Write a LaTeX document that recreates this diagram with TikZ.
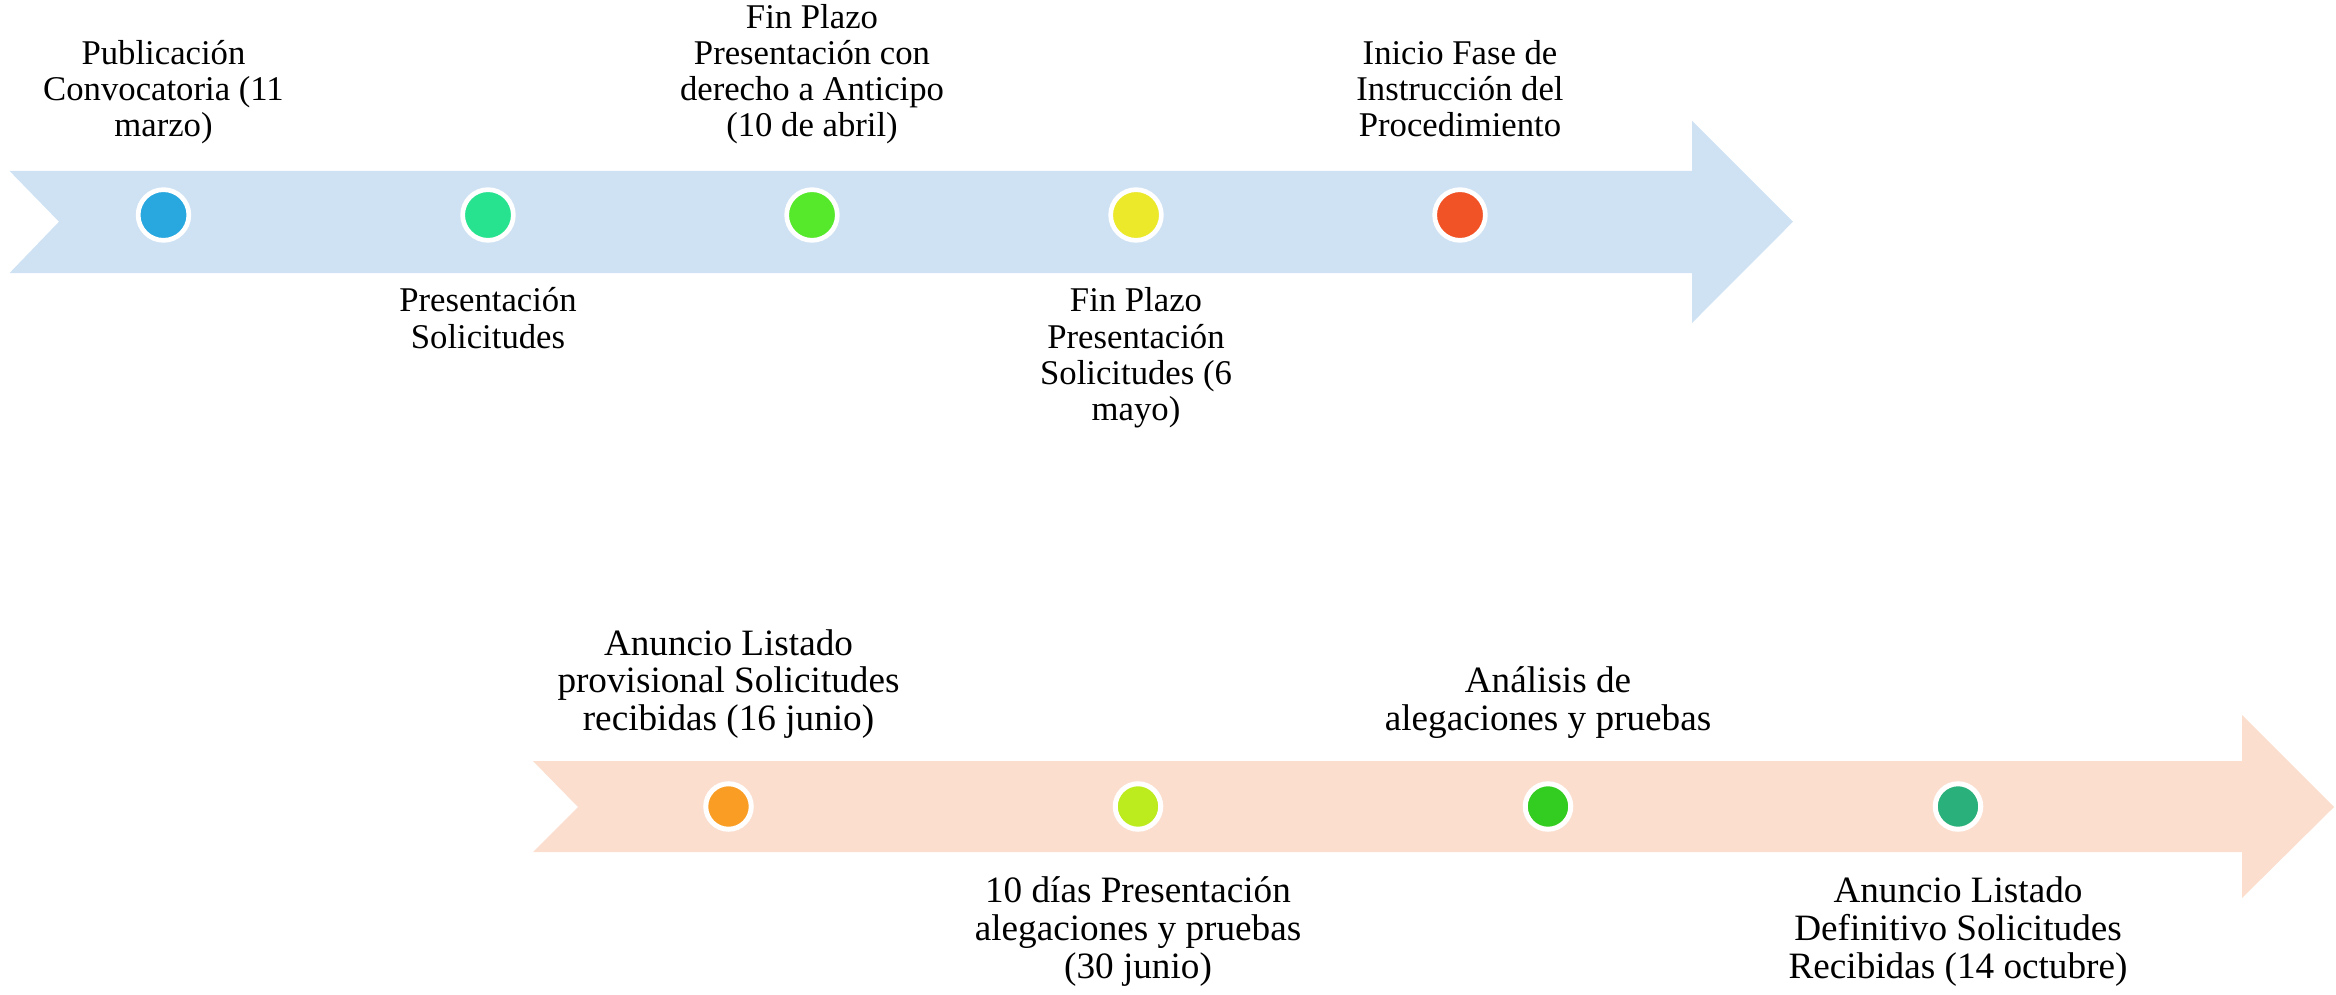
\documentclass[tikz,border=0pt]{standalone}
\usepackage{fontspec}
\setmainfont{Liberation Serif}
\usepackage{xcolor}
\usepackage{tikz}

\definecolor{bandblue}{RGB}{207,226,244}
\definecolor{bandpeach}{RGB}{251,222,206}
\definecolor{dotblue}{RGB}{41,168,224}
\definecolor{dotteal}{RGB}{39,226,142}
\definecolor{dotgreen}{RGB}{86,232,42}
\definecolor{dotyellow}{RGB}{235,233,41}
\definecolor{dotred}{RGB}{241,82,38}
\definecolor{dotorange}{RGB}{249,157,37}
\definecolor{dotlime}{RGB}{188,235,30}
\definecolor{dotgrass}{RGB}{51,204,32}
\definecolor{dotjade}{RGB}{42,176,122}

\begin{document}
\begin{tikzpicture}[x=1pt, y=-1pt,
  dot/.style={circle, draw=white, inner sep=0pt},
  updot/.style={dot, minimum size=50.7pt, line width=4.7pt},
  lowdot/.style={dot, minimum size=45.5pt, line width=5pt},
  lbl/.style={align=center, inner sep=0pt,
    execute at begin node=\strut, execute at end node=\strut},
  uplbl/.style={lbl, font=\fontsize{34.7}{36.3}\selectfont},
  lowlbl/.style={lbl, font=\fontsize{37.2}{37.8}\selectfont}]

% === Parameters ===
\pgfmathsetmacro{\upy}{215}      % dots, upper band
\pgfmathsetmacro{\lowy}{806.5}   % dots, lower band
\pgfmathsetmacro{\upabove}{148}  % label bottoms above upper band
\pgfmathsetmacro{\upbelow}{287.6}
\pgfmathsetmacro{\lowabove}{742.3}
\pgfmathsetmacro{\lowbelow}{876.5}

% === Drawing region ===
\useasboundingbox (0,0) rectangle (2336,995);

% === Bands ===
% Upper band (first phase)
\fill[bandblue] (9.6,171) -- (1692,171) -- (1692,120.7) -- (1793,221.7)
  -- (1692,323) -- (1692,273) -- (9.6,273) -- (59,221.7) -- cycle;

% Lower band (second phase)
\fill[bandpeach] (533,761) -- (2242,761) -- (2242,715) -- (2334,807)
  -- (2242,898) -- (2242,852) -- (533,852) -- (578,807) -- cycle;

% === Milestones, upper band ===
\node[updot, fill=dotblue] (pub) at (163.5,\upy) {};
\node[updot, fill=dotteal] (pres) at (488,\upy) {};
\node[updot, fill=dotgreen] (antic) at (812,\upy) {};
\node[updot, fill=dotyellow] (plazo) at (1136,\upy) {};
\node[updot, fill=dotred] (instr) at (1460,\upy) {};

\node[uplbl, anchor=south] (pubtxt) at (163.5,\upabove)
  {Publicación\\Convocatoria (11\\marzo)};
\node[uplbl, anchor=north] (prestxt) at (488,\upbelow)
  {Presentación\\Solicitudes};
\node[uplbl, anchor=south] (antictxt) at (812,\upabove)
  {Fin Plazo\\Presentación con\\derecho a Anticipo\\(10 de abril)};
\node[uplbl, anchor=north] (plazotxt) at (1136,\upbelow)
  {Fin Plazo\\Presentación\\Solicitudes (6\\mayo)};
\node[uplbl, anchor=south] (instrtxt) at (1460,\upabove)
  {Inicio Fase de\\Instrucción del\\Procedimiento};

% === Milestones, lower band ===
\node[lowdot, fill=dotorange] (prov) at (728.5,\lowy) {};
\node[lowdot, fill=dotlime] (aleg) at (1138,\lowy) {};
\node[lowdot, fill=dotgrass] (anal) at (1548,\lowy) {};
\node[lowdot, fill=dotjade] (defin) at (1958,\lowy) {};

\node[lowlbl, anchor=south] (provtxt) at (728.5,\lowabove)
  {Anuncio Listado\\provisional Solicitudes\\recibidas (16 junio)};
\node[lowlbl, anchor=north] (alegtxt) at (1138,\lowbelow)
  {10 días Presentación\\alegaciones y pruebas\\(30 junio)};
\node[lowlbl, anchor=south] (analtxt) at (1548,\lowabove)
  {Análisis de\\alegaciones y pruebas};
\node[lowlbl, anchor=north] (defintxt) at (1958,\lowbelow)
  {Anuncio Listado\\Definitivo Solicitudes\\Recibidas (14 octubre)};

\end{tikzpicture}
\end{document}
